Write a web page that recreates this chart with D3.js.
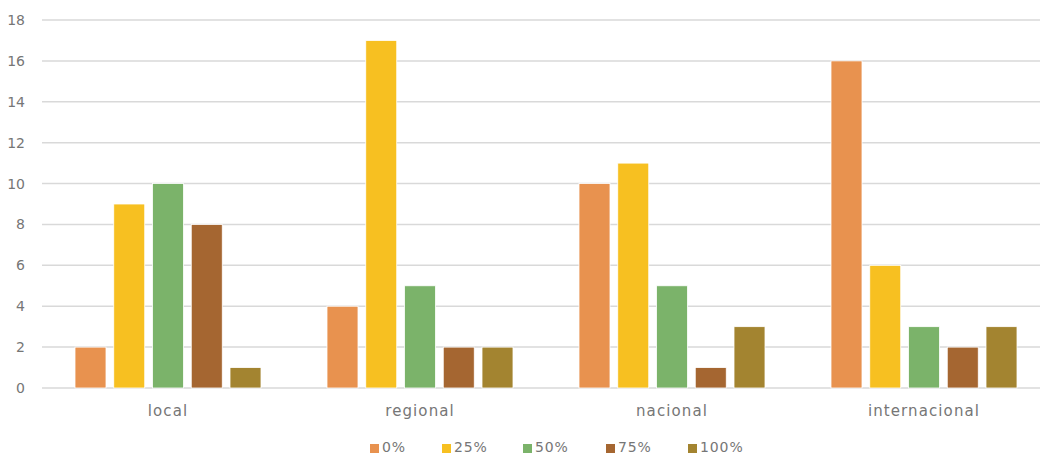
<!DOCTYPE html>
<html><head><meta charset="utf-8">
<script src="https://cdn.jsdelivr.net/npm/d3@7"></script>
<style>body{margin:0;background:#fff}svg{display:block}text{font-family:"DejaVu Sans",sans-serif;fill:#767676}</style>
</head><body><svg id="c" width="1040" height="455"></svg>
<script>
const categories = ["local","regional","nacional","internacional"];
const seriesNames = ["0%","25%","50%","75%","100%"];
const colors = ["#E8924F","#F7C021","#7BB36A","#A56631","#A38430"];
const s0 = [2,4,10,16];
const s25 = [9,17,11,6];
const s50 = [10,5,5,3];
const s75 = [8,2,1,2];
const s100 = [1,2,3,3];
const yTicks = [0,2,4,6,8,10,12,14,16,18];
const series = [s0,s25,s50,s75,s100];

const svg = d3.select("#c");
const x0 = d3.scaleBand().domain(categories).range([42,1050]).paddingInner(0).paddingOuter(0);
const x1 = d3.scaleBand().domain(seriesNames).range([33, 252-33]).paddingInner(0.2).paddingOuter(0);
const y = d3.scaleLinear().domain([0,18]).range([388,20]);

svg.append("g").selectAll("line").data(yTicks).join("line")
  .attr("x1",42).attr("x2",1040).attr("y1",d=>y(d)).attr("y2",d=>y(d))
  .attr("stroke","#d9d9d9").attr("stroke-width",1.5);

const yAxis = d3.axisLeft(y).tickValues(yTicks).tickSize(0).tickPadding(0);
const ya = svg.append("g").attr("transform","translate(25,0)").call(yAxis);
ya.select(".domain").remove();
ya.selectAll("text").attr("font-size",14).style("font-family",null).attr("fill",null);

categories.forEach((c,ci)=>{
  series.forEach((s,si)=>{
    svg.append("rect")
      .attr("x", x0(c)+x1(seriesNames[si]))
      .attr("y", y(s[ci]))
      .attr("width", x1.bandwidth())
      .attr("height", y(0)-y(s[ci]))
      .attr("fill", colors[si])
      .attr("stroke","#fff").attr("stroke-width",0.8);
  });
});

const xAxis = d3.axisBottom(x0).tickSize(0).tickPadding(0);
const xa = svg.append("g").attr("transform","translate(0,405)").call(xAxis);
xa.select(".domain").remove();
xa.selectAll("text").attr("font-size",15).attr("letter-spacing","1.1px").attr("dy","0.71em").style("font-family",null).attr("fill",null);

const legX = [370,442,523,606,688];
const leg = svg.append("g");
seriesNames.forEach((n,i)=>{
  leg.append("rect").attr("x",legX[i]).attr("y",444).attr("width",9).attr("height",9).attr("fill",colors[i]);
  leg.append("text").attr("x",legX[i]+12).attr("y",447.5).attr("dy","0.35em").attr("font-size",14).attr("letter-spacing","0.9px").text(n);
});
</script></body></html>
